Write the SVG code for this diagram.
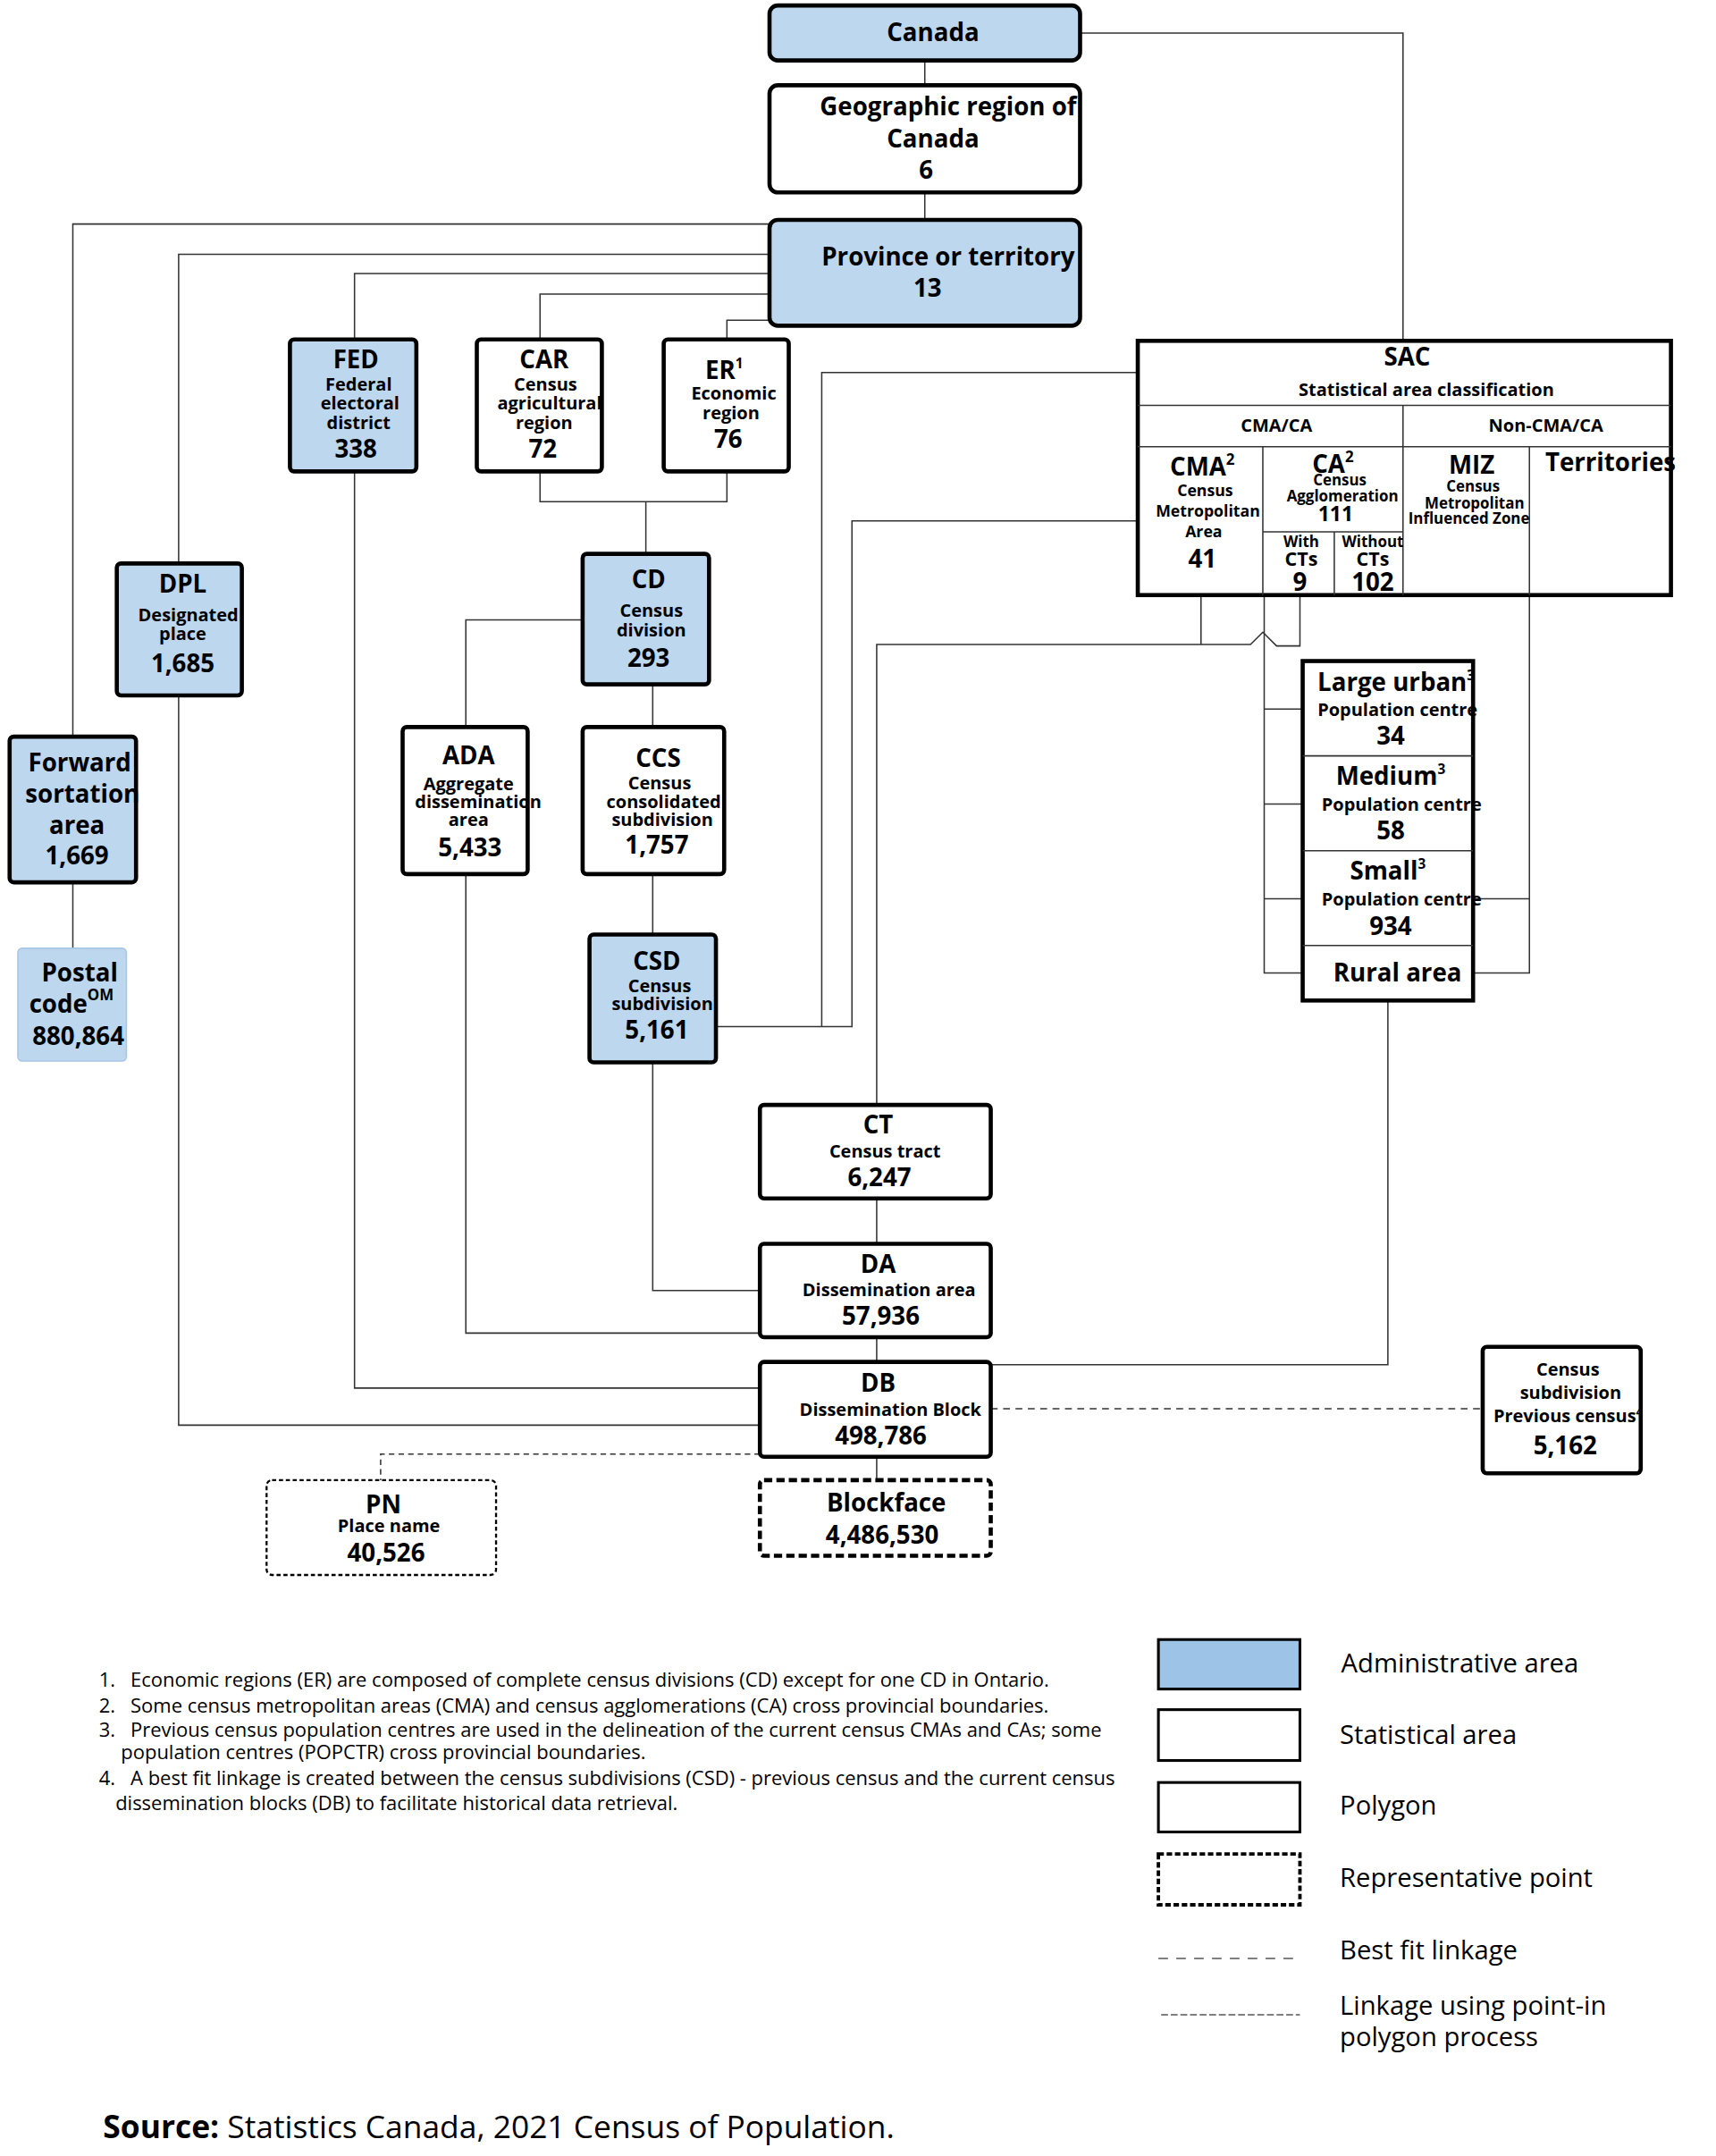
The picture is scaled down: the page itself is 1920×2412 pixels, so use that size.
<svg xmlns="http://www.w3.org/2000/svg" width="1920" height="2412" viewBox="0 0 1920 2412">
<style>
text{font-family:"Open Sans","Noto Sans",sans-serif;font-weight:bold;fill:#000;text-anchor:middle}
.t{font-size:18px}.s{font-size:13px}.n{font-size:18px}
.adm{fill:#bdd7ee;stroke:#000;stroke-width:3}
.st{fill:#fff;stroke:#000;stroke-width:3}
.ln{fill:none;stroke:#333;stroke-width:1}
.fn{font-weight:normal;text-anchor:start;font-size:14.3px}
.lg{font-weight:normal;text-anchor:start;font-size:19px}
</style>
<rect width="1920" height="2412" fill="#fff"/>
<g transform="scale(1.5375)">
<g id="connectors" class="ln">
<path d="M673 44V62M673 140V160M786 24H1021V248"/>
<path d="M560 163H53V536M560 185H130V410M560 199H258V247M560 214H393V247M560 233H529V247"/>
<path d="M393 343V365H529V343M470 365V403"/>
<path d="M53 642V690"/>
<path d="M424 451H339V529M475 498V529M475 636V680M475 773V939H553M339 636V970H553M258 343V1010H553M130 506V1037H553"/>
<path d="M638 872V905M638 973V991M638 1060V1077"/>
<path d="M553 1058H277V1077" stroke-dasharray="4 3"/>
<path d="M721 1025H1079" stroke-dasharray="5 4"/>
<path d="M521 747H598V271H828M521 747H620V379H828"/>
<path d="M638 804V469H910L919 460L929 470H946V433M874 433V469"/>
<path d="M920 433V708H948M920 516H948M920 585H948M920 654H948"/>
<path d="M1113 433V708H1072M1072 654H1113"/>
<path d="M1010 728V993H721"/>
</g>
<g id="canada"><rect class="adm" x="560" y="4" width="226" height="40" rx="6"/><text class="t" x="679" y="30">Canada</text></g>
<g id="geo"><rect class="st" x="560" y="62" width="226" height="78" rx="6"/><text class="t" x="690" y="84">Geographic region of</text><text class="t" x="679" y="107">Canada</text><text class="n" x="674" y="130">6</text></g>
<g id="prov"><rect class="adm" x="560" y="160" width="226" height="77" rx="6"/><text class="t" x="690" y="193">Province or territory</text><text class="n" x="675" y="216">13</text></g>
<g id="fed"><rect class="adm" x="211" y="247" width="92" height="96" rx="3"/><text class="t" x="259" y="268">FED</text><text class="s" x="261" y="284">Federal</text><text class="s" x="262" y="298">electoral</text><text class="s" x="261" y="312">district</text><text class="n" x="259" y="333">338</text></g>
<g id="car"><rect class="st" x="347" y="247" width="91" height="96" rx="3"/><text class="t" x="396" y="268">CAR</text><text class="s" x="397" y="284">Census</text><text class="s" x="400" y="298">agricultural</text><text class="s" x="396" y="312">region</text><text class="n" x="395" y="333">72</text></g>
<g id="er"><rect class="st" x="483" y="247" width="91" height="96" rx="3"/><text class="t" x="527" y="276">ER<tspan font-size="10" dy="-8">1</tspan></text><text class="s" x="534" y="291">Economic</text><text class="s" x="532" y="305">region</text><text class="n" x="530" y="326">76</text></g>
<g id="cd"><rect class="adm" x="424" y="403" width="92" height="95" rx="3"/><text class="t" x="472" y="428">CD</text><text class="s" x="474" y="449">Census</text><text class="s" x="474" y="463">division</text><text class="n" x="472" y="485">293</text></g>
<g id="dpl"><rect class="adm" x="85" y="410" width="91" height="96" rx="3"/><text class="t" x="133" y="431">DPL</text><text class="s" x="137" y="452">Designated</text><text class="s" x="133" y="466">place</text><text class="n" x="133" y="489">1,685</text></g>
<g id="fsa"><rect class="adm" x="7" y="536" width="92" height="106" rx="3"/><text class="t" x="58" y="561">Forward</text><text class="t" x="60" y="584">sortation</text><text class="t" x="56" y="607">area</text><text class="n" x="56" y="629">1,669</text></g>
<g id="postal"><rect x="13" y="690" width="79" height="82" rx="3" fill="#bdd7ee" stroke="#a8c6e6" stroke-width="1"/><text class="t" x="58" y="714">Postal</text><text class="t" x="52" y="737">code<tspan font-size="11" dy="-9">OM</tspan></text><text class="n" x="57" y="760">880,864</text></g>
<g id="ada"><rect class="st" x="293" y="529" width="91" height="107" rx="3"/><text class="t" x="341" y="556">ADA</text><text class="s" x="341" y="575">Aggregate</text><text class="s" x="348" y="588">dissemination</text><text class="s" x="341" y="601">area</text><text class="n" x="342" y="623">5,433</text></g>
<g id="ccs"><rect class="st" x="424" y="529" width="103" height="107" rx="3"/><text class="t" x="479" y="558">CCS</text><text class="s" x="480" y="574">Census</text><text class="s" x="483" y="588">consolidated</text><text class="s" x="482" y="601">subdivision</text><text class="n" x="478" y="621">1,757</text></g>
<g id="csd"><rect class="adm" x="429" y="680" width="92" height="93" rx="3"/><text class="t" x="478" y="706">CSD</text><text class="s" x="480" y="722">Census</text><text class="s" x="482" y="735">subdivision</text><text class="n" x="478" y="756">5,161</text></g>
<g id="ct"><rect class="st" x="553" y="804" width="168" height="68" rx="3"/><text class="t" x="639" y="825">CT</text><text class="s" x="644" y="842">Census tract</text><text class="n" x="640" y="863">6,247</text></g>
<g id="da"><rect class="st" x="553" y="905" width="168" height="68" rx="3"/><text class="t" x="639" y="926">DA</text><text class="s" x="647" y="943">Dissemination area</text><text class="n" x="641" y="964">57,936</text></g>
<g id="db"><rect class="st" x="553" y="991" width="168" height="69" rx="3"/><text class="t" x="639" y="1013">DB</text><text class="s" x="648" y="1030">Dissemination Block</text><text class="n" x="641" y="1051">498,786</text></g>
<g id="pn"><rect x="194" y="1077" width="167" height="69" rx="4" fill="#fff" stroke="#000" stroke-width="1.5" stroke-dasharray="3 2"/><text class="t" x="279" y="1101">PN</text><text class="s" x="283" y="1115">Place name</text><text class="n" x="281" y="1136">40,526</text></g>
<g id="blockface"><rect x="553" y="1077" width="168" height="55" rx="3" fill="#fff" stroke="#000" stroke-width="3" stroke-dasharray="6 3"/><text class="t" x="645" y="1100">Blockface</text><text class="n" x="642" y="1123">4,486,530</text></g>
<g id="csdprev"><rect class="st" x="1079" y="980" width="115" height="92" rx="3"/><text class="s" x="1141" y="1001">Census</text><text class="s" x="1143" y="1018">subdivision</text><text class="s" x="1141" y="1035">Previous census<tspan font-size="8" dy="-5">4</tspan></text><text class="n" x="1139" y="1058">5,162</text></g>
<g id="sac">
<rect x="828" y="248" width="388" height="185" fill="#fff" stroke="#000" stroke-width="3"/>
<path class="ln" d="M828 295H1216M828 325H1216M1021 295V433M919 325V433M1113 325V433M919 387H1021M971 387V433"/>
<text class="t" x="1024" y="266">SAC</text><text class="s" x="1038" y="288">Statistical area classification</text>
<text class="s" x="929" y="314">CMA/CA</text><text class="s" x="1125" y="314">Non-CMA/CA</text>
<text class="t" x="875" y="346">CMA<tspan font-size="11" dy="-8">2</tspan></text><text x="877" y="361" font-size="11.5">Census</text><text x="879" y="376" font-size="11.5">Metropolitan</text><text x="876" y="391" font-size="11.5">Area</text><text class="n" x="875" y="413">41</text>
<text class="t" x="970" y="344">CA<tspan font-size="11" dy="-8">2</tspan></text><text x="975" y="353" font-size="11">Census</text><text x="977" y="365" font-size="11">Agglomeration</text><text x="972" y="379" font-size="15">111</text>
<text x="947" y="398" font-size="11">With</text><text x="947" y="412" font-size="14">CTs</text><text class="n" x="946" y="430">9</text>
<text x="999" y="398" font-size="11">Without</text><text x="999" y="412" font-size="14">CTs</text><text class="n" x="999" y="430">102</text>
<text class="t" x="1071" y="345">MIZ</text><text x="1072" y="358" font-size="11">Census</text><text x="1073" y="370" font-size="11">Metropolitan</text><text x="1069" y="381" font-size="11">Influenced Zone</text>
<text class="t" x="1172" y="343">Territories</text>
</g>
<g id="popctr">
<rect x="948" y="481" width="124" height="247" fill="#fff" stroke="#000" stroke-width="3"/>
<path class="ln" d="M948 550H1072M948 619H1072M948 688H1072" stroke-width="1.5"/>
<text class="t" x="1016" y="503">Large urban<tspan font-size="10" dy="-8">3</tspan></text><text class="s" x="1017" y="521" font-weight="normal">Population centre</text><text class="n" x="1012" y="542">34</text>
<text class="t" x="1012" y="571">Medium<tspan font-size="10" dy="-8">3</tspan></text><text class="s" x="1020" y="590">Population centre</text><text class="n" x="1012" y="611">58</text>
<text class="t" x="1010" y="640">Small<tspan font-size="10" dy="-8">3</tspan></text><text class="s" x="1020" y="659">Population centre</text><text class="n" x="1012" y="680">934</text>
<text class="t" x="1017" y="714">Rural area</text>
</g>
<g id="footnotes">
<text class="fn" x="72" y="1227">1.</text><text class="fn" x="95" y="1227">Economic regions (ER) are composed of complete census divisions (CD) except for one CD in Ontario.</text>
<text class="fn" x="72" y="1246">2.</text><text class="fn" x="95" y="1246">Some census metropolitan areas (CMA) and census agglomerations (CA) cross provincial boundaries.</text>
<text class="fn" x="72" y="1264">3.</text><text class="fn" x="95" y="1264">Previous census population centres are used in the delineation of the current census CMAs and CAs; some</text>
<text class="fn" x="88" y="1280">population centres (POPCTR) cross provincial boundaries.</text>
<text class="fn" x="72" y="1299">4.</text><text class="fn" x="95" y="1299">A best fit linkage is created between the census subdivisions (CSD) - previous census and the current census</text>
<text class="fn" x="84" y="1317">dissemination blocks (DB) to facilitate historical data retrieval.</text>
</g>
<g id="legend">
<rect x="843" y="1193" width="103" height="36" fill="#9dc3e6" stroke="#000" stroke-width="2"/>
<rect x="843" y="1244" width="103" height="37" fill="#fff" stroke="#000" stroke-width="2"/>
<rect x="843" y="1297" width="103" height="36" fill="#fff" stroke="#000" stroke-width="2"/>
<rect x="843" y="1349" width="103" height="37" fill="#fff" stroke="#000" stroke-width="2.5" stroke-dasharray="4 2"/>
<path d="M843 1425H943" stroke="#555" stroke-width="1" stroke-dasharray="7 6"/>
<path d="M845 1466H946" stroke="#555" stroke-width="1" stroke-dasharray="5 2"/>
<text class="lg" x="976" y="1217">Administrative area</text>
<text class="lg" x="975" y="1269">Statistical area</text>
<text class="lg" x="975" y="1320">Polygon</text>
<text class="lg" x="975" y="1373">Representative point</text>
<text class="lg" x="975" y="1426">Best fit linkage</text>
<text class="lg" x="975" y="1466">Linkage using point-in</text>
<text class="lg" x="975" y="1489">polygon process</text>
</g>
<text x="75" y="1556" style="text-anchor:start;font-size:23px;font-weight:normal"><tspan font-weight="bold">Source:</tspan> Statistics Canada, 2021 Census of Population.</text>
</g>
</svg>
